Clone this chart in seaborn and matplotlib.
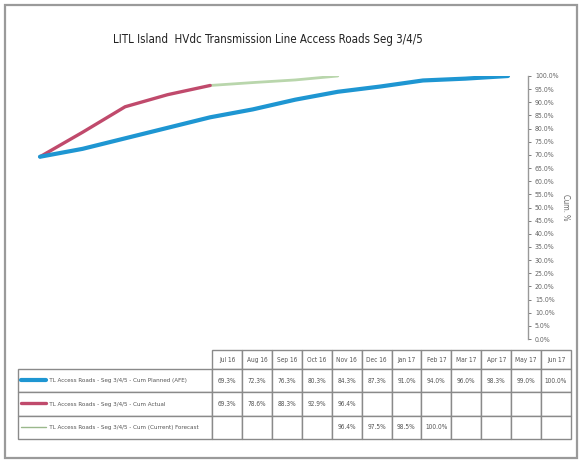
import numpy as np
import pandas as pd
import matplotlib
matplotlib.use('Agg')
import matplotlib.pyplot as plt
from matplotlib.patches import Rectangle
from matplotlib.lines import Line2D
from matplotlib.ticker import MultipleLocator, PercentFormatter
import seaborn as sns

# ---- data ----
months = ['Jul 16', 'Aug 16', 'Sep 16', 'Oct 16', 'Nov 16', 'Dec 16',
          'Jan 17', 'Feb 17', 'Mar 17', 'Apr 17', 'May 17', 'Jun 17']
planned = [69.3, 72.3, 76.3, 80.3, 84.3, 87.3, 91.0, 94.0, 96.0, 98.3, 99.0, 100.0]
actual = [69.3, 78.6, 88.3, 92.9, 96.4, None, None, None, None, None, None, None]
forecast = [None, None, None, None, 96.4, 97.5, 98.5, 100.0, None, None, None, None]
series_names = ['TL Access Roads - Seg 3/4/5 - Cum Planned (AFE)',
                'TL Access Roads - Seg 3/4/5 - Cum Actual',
                'TL Access Roads - Seg 3/4/5 - Cum (Current) Forecast']
colors = ['#1e96d2', '#c04a6c', '#b9d6ac']
widths = [3.0, 2.4, 2.0]

sns.set_style('white')
plt.rcParams['font.family'] = ['Liberation Sans Narrow', 'DejaVu Sans']
plt.rcParams['font.stretch'] = 'condensed'

W, H = 581, 463
fig = plt.figure(figsize=(W / 100, H / 100), dpi=100)

def fx(px):
    return px / W

def fy(py):
    return 1 - py / H

# outer frame
fig.add_artist(Rectangle((fx(5), fy(458)), fx(572), 453 / H, transform=fig.transFigure,
                         fill=False, edgecolor='#9a9a9a', linewidth=1.6))

# ---- line chart ----
ax = fig.add_axes([fx(20), fy(339), fx(508), (339 - 76) / H])
df = pd.DataFrame({'x': np.arange(len(months)), 'planned': planned,
                   'actual': actual, 'forecast': forecast}).astype(float)
sns.lineplot(data=df, x='x', y='forecast', ax=ax, color=colors[2], linewidth=widths[2])
sns.lineplot(data=df, x='x', y='actual', ax=ax, color=colors[1], linewidth=widths[1])
sns.lineplot(data=df, x='x', y='planned', ax=ax, color=colors[0], linewidth=widths[0])

ax.set_xlim(-0.47, 11.47)
ax.set_ylim(0, 100)
ax.set_xticks([])
ax.set_xlabel('')
ax.yaxis.tick_right()
ax.yaxis.set_label_position('right')
ax.yaxis.set_major_locator(MultipleLocator(5))
ax.yaxis.set_major_formatter(PercentFormatter(decimals=1))
ax.tick_params(axis='y', labelsize=5, colors='#666666', length=2, width=0.6, pad=3)
ax.set_ylabel('Cum. %', rotation=270, fontsize=5.5, color='#666666', labelpad=8)
for s in ['left', 'top', 'bottom']:
    ax.spines[s].set_visible(False)
ax.spines['right'].set_color('#999999')
ax.spines['right'].set_linewidth(1.0)
ax.patch.set_alpha(0)

fig.text(fx(268), fy(40), 'LITL Island  HVdc Transmission Line Access Roads Seg 3/4/5',
         ha='center', va='center', fontsize=8.3, color='#222222', fontweight='medium')

# ---- data table (bbox covers the month grid; row labels hang to the left) ----
axt = fig.add_axes([fx(212), fy(439), fx(571 - 212), (439 - 350) / H])
axt.axis('off')

def fmt(v):
    return '' if v is None else f'{v:.1f}%'

cells = [[fmt(v) for v in planned], [fmt(v) for v in actual], [fmt(v) for v in forecast]]
row_labels = ['       ' + n for n in series_names]
tbl = axt.table(cellText=cells, rowLabels=row_labels, colLabels=months,
                cellLoc='center', rowLoc='left', bbox=[0, 0, 1, 1])
tbl.auto_set_font_size(False)
tbl.set_fontsize(4.7)
for (r, c), cell in tbl.get_celld().items():
    cell.set_edgecolor('#8a8a8a')
    cell.set_linewidth(1.0)
    cell.get_text().set_color('#555555')
    cell.set_width(195 / 359 if c == -1 else 1 / 12)
    cell.set_height(19 / 89 if r == 0 else 23.3 / 89)
    if c == -1:
        cell.get_text().set_fontsize(4.5)

# legend keys in the row label cells
for i, (col, lw) in enumerate(zip(colors, widths)):
    yk = fy(380 + i * 23.3)
    fig.add_artist(Line2D([fx(21), fx(46)], [yk, yk], color=col if i < 2 else '#9ab88c',
                          linewidth=lw if i < 2 else 1.0, transform=fig.transFigure))

fig.savefig('out.png', dpi=100)
